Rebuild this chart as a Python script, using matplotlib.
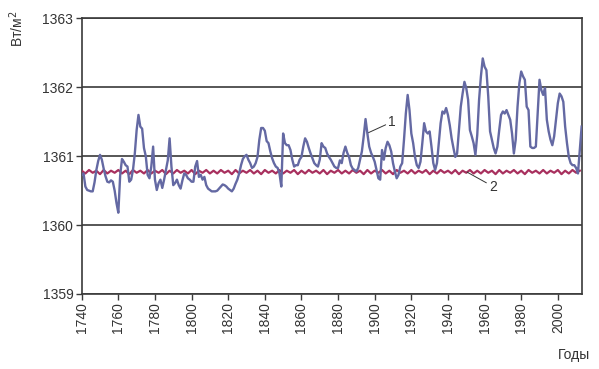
import matplotlib
matplotlib.use("Agg")
import matplotlib.pyplot as plt

plt.rcParams['font.family'] = ['Liberation Sans', 'DejaVu Sans']

start_year = 1740
tsi = [
    1360.73, 1360.75, 1360.56, 1360.51, 1360.50, 1360.49, 1360.49, 1360.62, 1360.80, 1360.93,  # 1740
    1361.02, 1360.95, 1360.82, 1360.71, 1360.63, 1360.62, 1360.65, 1360.63, 1360.50, 1360.32,  # 1750
    1360.18, 1360.72, 1360.96, 1360.92, 1360.87, 1360.85, 1360.63, 1360.66, 1360.80, 1361.04,  # 1760
    1361.38, 1361.60, 1361.43, 1361.40, 1361.12, 1361.00, 1360.73, 1360.68, 1360.85, 1361.14,  # 1770
    1360.66, 1360.51, 1360.61, 1360.66, 1360.54, 1360.66, 1360.80, 1360.94, 1361.26, 1360.85,  # 1780
    1360.58, 1360.61, 1360.66, 1360.58, 1360.53, 1360.65, 1360.75, 1360.73, 1360.68, 1360.66,  # 1790
    1360.63, 1360.63, 1360.85, 1360.93, 1360.70, 1360.73, 1360.66, 1360.70, 1360.58, 1360.53,  # 1800
    1360.51, 1360.49, 1360.49, 1360.49, 1360.50, 1360.53, 1360.56, 1360.59, 1360.58, 1360.56,  # 1810
    1360.53, 1360.51, 1360.49, 1360.53, 1360.60, 1360.66, 1360.75, 1360.87, 1360.96, 1361.00,  # 1820
    1361.02, 1360.95, 1360.90, 1360.83, 1360.85, 1360.90, 1360.99, 1361.24, 1361.41, 1361.41,  # 1830
    1361.37, 1361.22, 1361.19, 1361.07, 1360.97, 1360.90, 1360.85, 1360.83, 1360.75, 1360.56,  # 1840
    1361.33, 1361.19, 1361.16, 1361.16, 1361.09, 1360.95, 1360.85, 1360.87, 1360.87, 1360.95,  # 1850
    1360.99, 1361.14, 1361.26, 1361.21, 1361.12, 1361.04, 1360.97, 1360.90, 1360.87, 1360.85,  # 1860
    1360.95, 1361.19, 1361.14, 1361.12, 1361.04, 1360.99, 1360.95, 1360.90, 1360.85, 1360.83,  # 1870
    1360.83, 1360.94, 1360.90, 1361.05, 1361.14, 1361.05, 1360.99, 1360.87, 1360.82, 1360.80,  # 1880
    1360.78, 1360.83, 1360.95, 1361.07, 1361.29, 1361.54, 1361.33, 1361.14, 1361.05, 1360.99,  # 1890
    1360.92, 1360.80, 1360.68, 1360.66, 1361.09, 1360.95, 1361.12, 1361.21, 1361.16, 1361.07,  # 1900
    1360.90, 1360.78, 1360.68, 1360.73, 1360.85, 1360.90, 1361.24, 1361.62, 1361.89, 1361.67,  # 1910
    1361.33, 1361.19, 1360.99, 1360.87, 1360.83, 1360.92, 1361.19, 1361.48, 1361.36, 1361.33,  # 1920
    1361.36, 1361.14, 1360.90, 1360.80, 1360.90, 1361.19, 1361.48, 1361.65, 1361.62, 1361.70,  # 1930
    1361.60, 1361.45, 1361.26, 1361.12, 1360.99, 1361.04, 1361.38, 1361.72, 1361.91, 1362.08,  # 1940
    1361.99, 1361.82, 1361.38, 1361.29, 1361.19, 1361.02, 1361.31, 1361.82, 1362.16, 1362.42,  # 1950
    1362.30, 1362.25, 1361.87, 1361.36, 1361.24, 1361.12, 1361.04, 1361.14, 1361.38, 1361.60,  # 1960
    1361.65, 1361.62, 1361.67, 1361.60, 1361.53, 1361.33, 1361.04, 1361.24, 1361.72, 1362.06,  # 1970
    1362.23, 1362.16, 1362.11, 1361.72, 1361.67, 1361.14, 1361.12, 1361.12, 1361.14, 1361.62,  # 1980
    1362.11, 1361.96, 1361.89, 1361.99, 1361.53, 1361.36, 1361.24, 1361.16, 1361.29, 1361.53,  # 1990
    1361.77, 1361.91, 1361.87, 1361.79, 1361.43, 1361.19, 1360.99, 1360.90, 1360.87, 1360.87,  # 2000
    1360.83, 1360.75, 1361.09, 1361.43,                                                        # 2010
]
years1 = list(range(start_year, start_year + len(tsi)))

background = [
    1360.79, 1360.75, 1360.80, 1360.76, 1360.79, 1360.74, 1360.80, 1360.75, 1360.79, 1360.76,
    1360.80, 1360.75, 1360.79, 1360.74, 1360.80, 1360.76, 1360.79, 1360.75, 1360.80, 1360.75,
    1360.79, 1360.76, 1360.80, 1360.74, 1360.79, 1360.75, 1360.80, 1360.76, 1360.79, 1360.75,
    1360.80, 1360.74, 1360.79, 1360.76, 1360.80, 1360.75, 1360.79, 1360.75, 1360.80, 1360.76,
    1360.79, 1360.74, 1360.80, 1360.75, 1360.79, 1360.76, 1360.80, 1360.75, 1360.79, 1360.74,
    1360.80, 1360.76, 1360.79, 1360.75, 1360.80, 1360.75, 1360.79, 1360.76, 1360.80, 1360.74,
    1360.79, 1360.75, 1360.80, 1360.76, 1360.79, 1360.75, 1360.80, 1360.74, 1360.79, 1360.76,
    1360.80, 1360.75, 1360.79, 1360.75, 1360.80, 1360.76, 1360.79, 1360.74, 1360.80, 1360.75,
    1360.79, 1360.76, 1360.80, 1360.75, 1360.79, 1360.74, 1360.80, 1360.76, 1360.79, 1360.75,
    1360.80, 1360.75, 1360.79, 1360.76, 1360.80, 1360.74, 1360.79, 1360.75, 1360.80, 1360.76,
    1360.79, 1360.75, 1360.80, 1360.74, 1360.79, 1360.76, 1360.80, 1360.75, 1360.79, 1360.75,
    1360.80, 1360.76, 1360.79, 1360.74, 1360.80, 1360.75, 1360.79, 1360.76, 1360.80, 1360.75,
    1360.79, 1360.74, 1360.80, 1360.76, 1360.79, 1360.75, 1360.80, 1360.75, 1360.79, 1360.76,
    1360.80, 1360.74, 1360.79, 1360.75, 1360.80, 1360.76, 1360.79,
]
years2 = list(range(start_year, start_year + 2 * len(background), 2))

x_ticks = list(range(1740, 2001, 20))
y_ticks = [1359, 1360, 1361, 1362, 1363]
y_label = "Вт/м$^2$"
x_label = "Годы"

fig = plt.figure(figsize=(5.99, 3.69), dpi=100)
ax = fig.add_axes([0.1364, 0.2033, 0.971 - 0.1364, 0.9499 - 0.2033])

for yv in y_ticks:
    ax.axhline(yv, color='#3a3a3a', lw=1.2, zorder=1)

ax.plot(years2, background, color='#a8305e', lw=1.6, zorder=3)
ax.plot(years1, tsi, color='#6469a3', lw=1.7, zorder=4)

ax.set_xlim(1740, 2013)
ax.set_ylim(1359, 1363)
ax.set_xticks(x_ticks)
ax.set_xticklabels([str(t) for t in x_ticks], rotation=90)
ax.set_yticks(y_ticks)
ax.tick_params(axis='both', direction='out', length=4, width=1, color='#3a3a3a',
               labelsize=10, labelcolor='#333333', pad=2)

for s in ax.spines.values():
    s.set_color('#3a3a3a')
    s.set_linewidth(1.2)

ax.annotate("1", xy=(1896.4, 1361.34), xytext=(1907.5, 1361.50),
            fontsize=10, color='#333333', va='center', ha='left',
            arrowprops=dict(arrowstyle='-', color='#333333', lw=0.7, shrinkA=0, shrinkB=0))
ax.annotate("2", xy=(1950.4, 1360.77), xytext=(1962.5, 1360.56),
            fontsize=10, color='#333333', va='center', ha='left',
            arrowprops=dict(arrowstyle='-', color='#333333', lw=0.7, shrinkA=0, shrinkB=0))

fig.text(0.028, 0.97, y_label, rotation=90, ha='center', va='top', fontsize=10, color='#333333')
fig.text(0.985, 0.038, x_label, ha='right', va='center', fontsize=10, color='#333333')

fig.savefig("out.png", dpi=100)
